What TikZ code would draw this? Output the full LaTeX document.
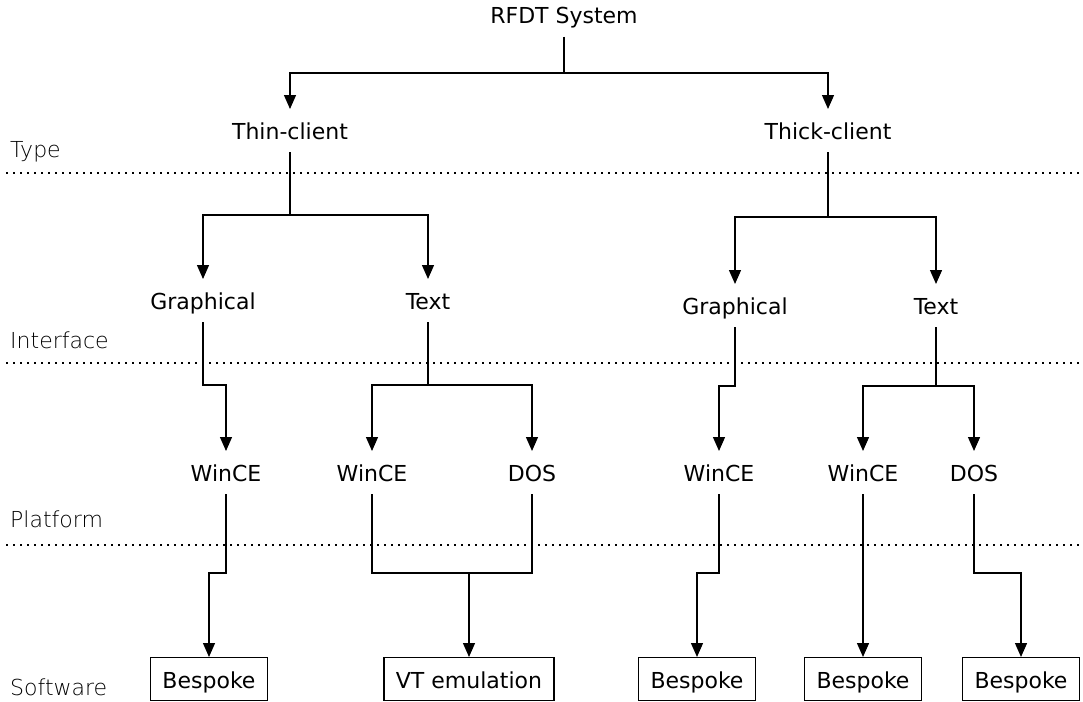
\documentclass[tikz,border=0pt]{standalone}
\usepackage{fontspec}
\setmainfont{DejaVu Sans}
\newfontfamily\layerfont{DejaVu Sans ExtraLight}
\usetikzlibrary{arrows.meta}
\begin{document}
\begin{tikzpicture}[x=1pt,y=-1pt,
  lbl/.style={font=\fontsize{22}{24}\selectfont, inner sep=0pt, outer sep=0pt,
              text height=30pt, text depth=13pt, anchor=base},
  box/.style={draw, line width=1.4pt, font=\fontsize{22}{24}\selectfont,
              inner xsep=12pt, inner ysep=0pt, minimum height=42.5pt,
              text height=22pt, text depth=3pt, anchor=north},
  layer/.style={font=\layerfont\fontsize{22}{24}\selectfont, inner sep=0pt, anchor=base west},
  conn/.style={line width=1.3pt},
  arr/.style={conn, -{Triangle[length=14pt,width=12pt]}},
  dotline/.style={line width=2.2pt, dash pattern=on 2.2pt off 4.8pt}]

\useasboundingbox (0,0) rectangle (1083,701);

% layer captions
\node[layer] (ltype)  at (10,157) {Type};
\node[layer] (lintf)  at (10,348) {Interface};
\node[layer] (lplat)  at (10,527) {Platform};
\node[layer] (lsoft)  at (10,695) {Software};

% layer separators
\coordinate (s1w) at (6,173);  \coordinate (s1e) at (1080,173);
\coordinate (s2w) at (6,363);  \coordinate (s2e) at (1080,363);
\coordinate (s3w) at (6,545);  \coordinate (s3e) at (1080,545);
\draw[dotline] (s1w) -- (s1e);
\draw[dotline] (s2w) -- (s2e);
\draw[dotline] (s3w) -- (s3e);

% tree nodes
\node[lbl] (sys)   at (564,24)  {RFDT System};
\node[lbl] (thin)  at (290,139) {Thin-client};
\node[lbl] (thick) at (828,139) {Thick-client};
\node[lbl] (g1)    at (203,309) {Graphical};
\node[lbl] (t1)    at (428,309) {Text};
\node[lbl] (g2)    at (735,314) {Graphical};
\node[lbl] (t2)    at (936,314) {Text};
\node[lbl] (w1)    at (226,481) {WinCE};
\node[lbl] (w2)    at (372,481) {WinCE};
\node[lbl] (d1)    at (532,481) {DOS};
\node[lbl] (w3)    at (719,481) {WinCE};
\node[lbl] (w4)    at (863,481) {WinCE};
\node[lbl] (d2)    at (974,481) {DOS};

% software boxes
\node[box] (b1) at (209,657)  {Bespoke};
\node[box] (vt) at (469,657)  {VT emulation};
\node[box] (b3) at (697,657)  {Bespoke};
\node[box] (b4) at (863,657)  {Bespoke};
\node[box] (b5) at (1021,657) {Bespoke};

% type level
\draw[arr] (sys.south) -- ++(0,36) -| (thin.north);
\draw[arr] (sys.south) -- ++(0,36) -| (thick.north);

% interface level
\draw[arr] (thin.south) -- ++(0,63) -| (g1.north);
\draw[arr] (thin.south) -- ++(0,63) -| (t1.north);
\draw[arr] (thick.south) -- ++(0,65) -| (g2.north);
\draw[arr] (thick.south) -- ++(0,65) -| (t2.north);

% platform level
\draw[arr] (g1.south) -- ++(0,63) -| (w1.north);
\draw[arr] (t1.south) -- ++(0,63) -| (w2.north);
\draw[arr] (t1.south) -- ++(0,63) -| (d1.north);
\draw[arr] (g2.south) -- ++(0,59) -| (w3.north);
\draw[arr] (t2.south) -- ++(0,59) -| (w4.north);
\draw[arr] (t2.south) -- ++(0,59) -| (d2.north);

% software level
\draw[arr] (w1.south) -- ++(0,79) -| (b1.north);
\draw[conn] (w2.south) -- ++(0,79) coordinate (vtrow) -| (d1.south);
\draw[arr] (vt.north |- vtrow) -- (vt.north);
\draw[arr] (w3.south) -- ++(0,79) -| (b3.north);
\draw[arr] (w4.south) -- (b4.north);
\draw[arr] (d2.south) -- ++(0,79) -| (b5.north);
\end{tikzpicture}
\end{document}
